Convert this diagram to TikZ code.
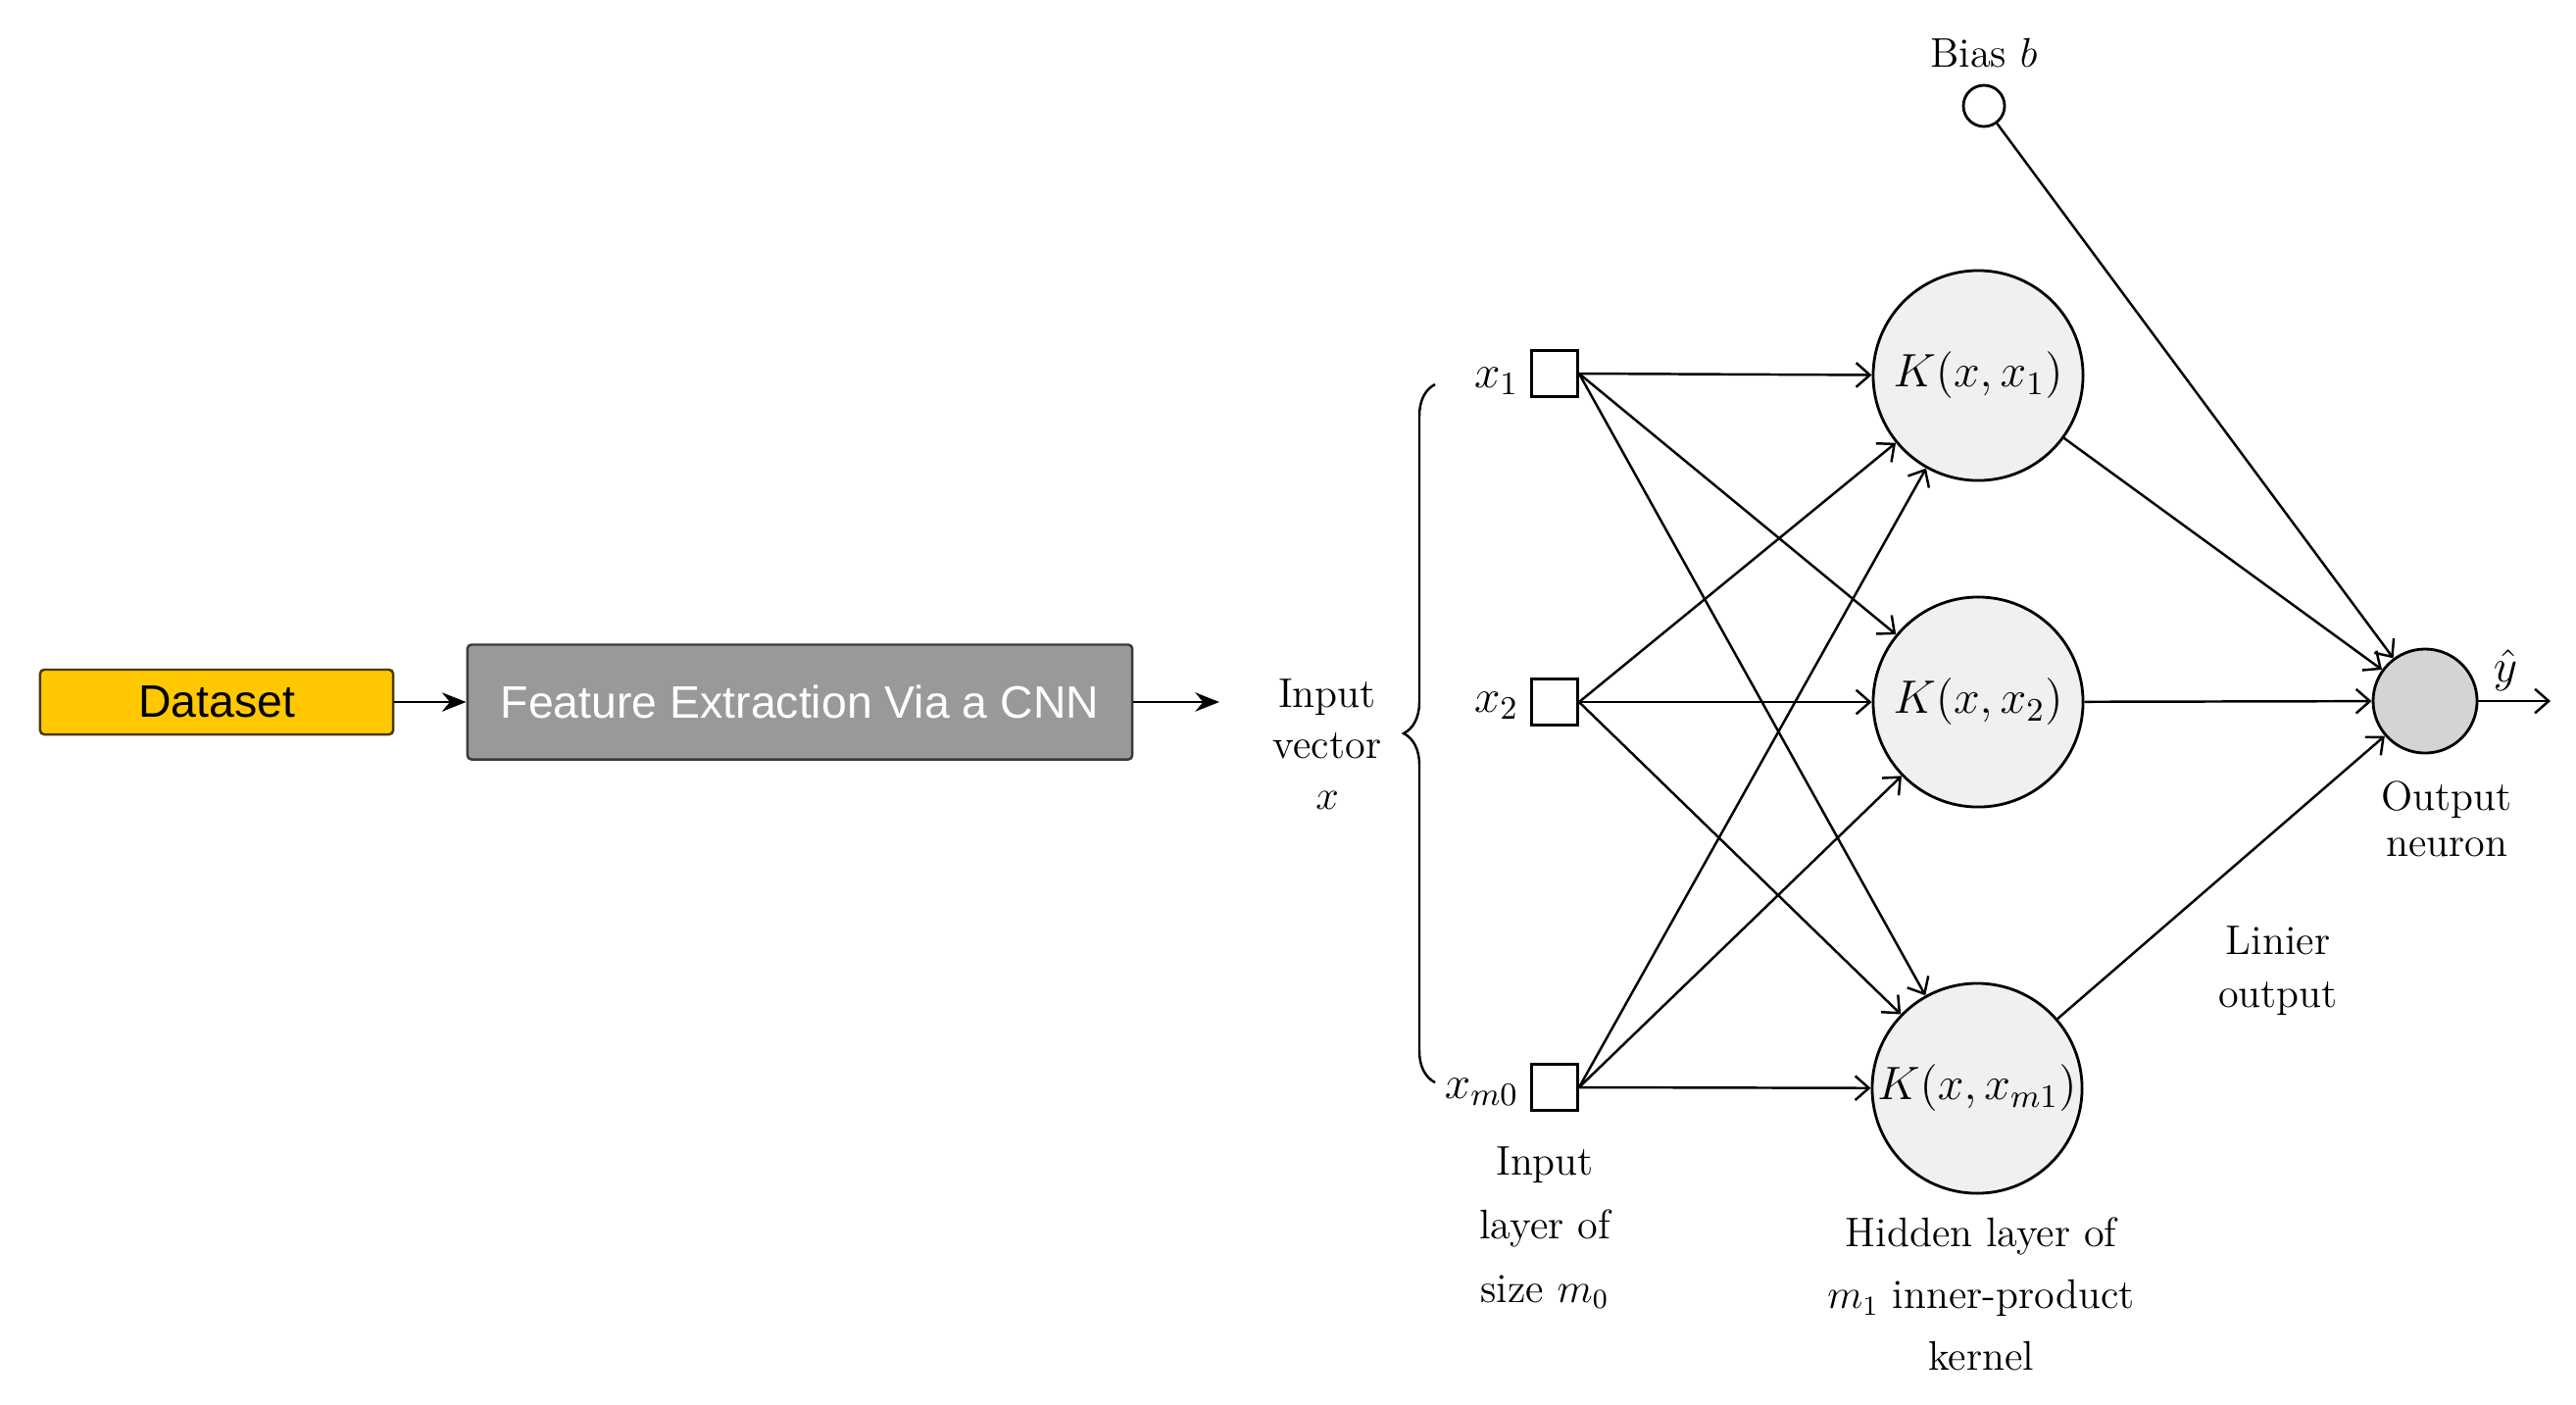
\RequirePackage{fix-cm}
\documentclass[tikz,border=0pt]{standalone}
\usepackage{fontspec}
\newfontfamily\boxfont{Liberation Sans}
\usetikzlibrary{arrows.meta,decorations.pathreplacing}
\definecolor{dsfill}{HTML}{FFC800}
\definecolor{dsdraw}{HTML}{4A3A00}
\definecolor{fefill}{HTML}{999999}
\definecolor{fedraw}{HTML}{3A3A3A}
\definecolor{hidfill}{HTML}{F0F0F0}
\definecolor{outfill}{HTML}{D4D4D4}
\begin{document}
\begin{tikzpicture}[x=0.01cm,y=-0.01cm,
  lbl/.style={font=\fontsize{12}{14.8}\selectfont, align=center, inner sep=0pt},
  inbox/.style={draw, line width=0.8pt, minimum size=0.47cm, inner sep=0pt},
  kern/.style={circle, draw, line width=0.8pt, fill=hidfill, minimum size=2.14cm, inner sep=0pt, font=\fontsize{13.6}{16}\selectfont},
  conn/.style={line width=0.7pt, -{Straight Barb[length=4pt,width=7pt,line width=0.7pt]}},
  flow/.style={line width=0.8pt, -{Stealth[length=7pt,width=5.5pt]}},
  sbox/.style={draw, rounded corners=1.2pt, line width=0.7pt, inner sep=0pt, font=\boxfont\fontsize{13.2}{15}\selectfont}
]
\useasboundingbox (0,0) rectangle (2628,1432);

% left pipeline
\node[sbox, fill=dsfill, draw=dsdraw, minimum width=3.6cm, minimum height=0.66cm] (ds) at (221,716) {Dataset};
\node[sbox, fill=fefill, draw=fedraw, text=white, minimum width=6.78cm, minimum height=1.17cm] (fe) at (816,716) {Feature Extraction Via a CNN};
\coordinate (feend) at (1244,716);
\draw[flow] (ds.east) -- (fe.west);
\draw[flow] (fe.east) -- (feend);

% input vector label and brace
\node[lbl] (invec) at (1354,759) {Input\\vector\\$x$};
\draw[line width=0.7pt, decorate, decoration={brace, amplitude=0.32cm}] (1464,1104) -- (1464,392);

% input squares
\node[inbox] (x1) at (1586,381) {};
\node[inbox] (x2) at (1586,716) {};
\node[inbox] (xm) at (1586,1109) {};
\node[lbl, anchor=east, font=\fontsize{13.5}{15}\selectfont] (lx1) at (1550,389) {$x_1$};
\node[lbl, anchor=east, font=\fontsize{13.5}{15}\selectfont] (lx2) at (1550,720) {$x_2$};
\node[lbl, anchor=east, font=\fontsize{13.5}{15}\selectfont] (lxm) at (1550,1114) {$x_{m0}$};
\node[lbl, font=\fontsize{12}{18.5}\selectfont] (inl) at (1576,1252) {Input\\layer of\\size $m_0$};

% hidden layer
\node[kern] (k1) at (2018,383) {$K(x,x_1)$};
\node[kern] (k2) at (2018,716) {$K(x,x_2)$};
\node[kern] (km) at (2017,1110) {$K(x,x_{m1})$};
\node[lbl, font=\fontsize{12}{17.9}\selectfont] (hidl) at (2021,1320) {Hidden layer of\\$m_1$ inner-product\\kernel};

% output
\node[circle, draw, line width=0.8pt, fill=outfill, minimum size=1.06cm, inner sep=0pt] (out) at (2474,715) {};
\node[circle, draw, line width=0.8pt, fill=white, minimum size=0.42cm, inner sep=0pt] (bias) at (2024,108) {};
\node[lbl] (biasl) at (2024,54) {Bias $b$};
\node[lbl, font=\fontsize{13.5}{15}\selectfont] (yhat) at (2556,684) {$\hat{y}$};
\coordinate (yend) at (2602,715);
\node[lbl, font=\fontsize{12}{13.4}\selectfont] (outl) at (2496,835) {Output\\neuron};
\node[lbl, font=\fontsize{12}{15.4}\selectfont] (linl) at (2324,990) {Linier\\output};

% connections input -> hidden
\foreach \s in {x1,x2,xm}{
  \foreach \t in {k1,k2,km}{
    \draw[conn] (\s.east) -- (\t);
  }
}
% hidden -> output
\foreach \t in {k1,k2,km}{
  \draw[conn] (\t) -- (out);
}
\draw[conn] (bias) -- (out);
\draw[conn] (out.east) -- (yend);
\end{tikzpicture}
\end{document}
